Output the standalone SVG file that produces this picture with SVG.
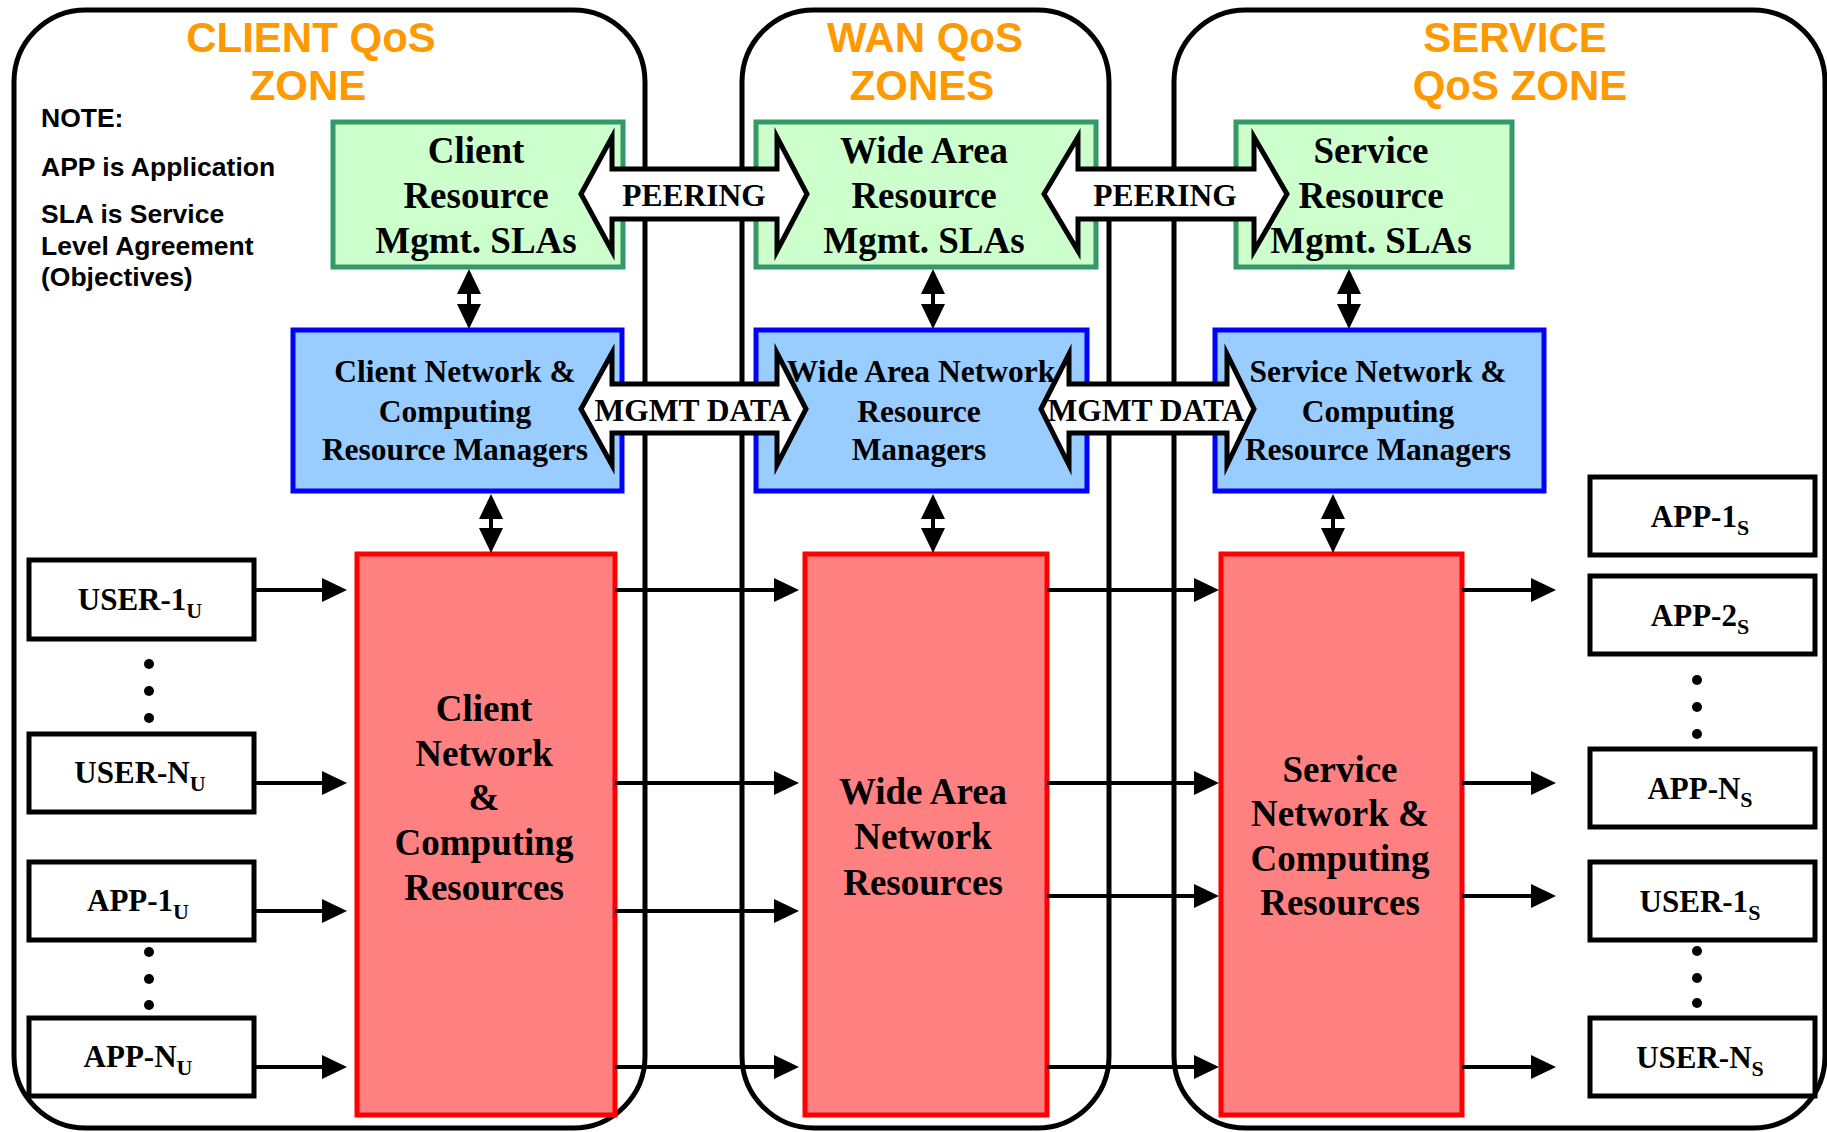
<svg xmlns="http://www.w3.org/2000/svg" width="1827" height="1132" viewBox="0 0 1827 1132">
<style>
.zone{fill:none;stroke:#000;stroke-width:5}
.title{font-family:"Liberation Sans",Arial,sans-serif;font-weight:bold;font-size:42px;fill:#FF9900;text-anchor:middle}
.note{font-family:"Liberation Sans",Arial,sans-serif;font-weight:bold;font-size:26.5px;fill:#000}
.t{font-family:"Liberation Serif","Times New Roman",serif;font-weight:bold;text-anchor:middle;fill:#000}
.gt{font-size:37px}
.bt{font-size:31.5px}
.rt{font-size:37px}
.st{font-size:31px}
.sub{font-size:22px}
.green{fill:#CCFFCC;stroke:#339966;stroke-width:5}
.blue{fill:#99CCFF;stroke:#0000FF;stroke-width:5}
.red{fill:#FF8080;stroke:#FF0000;stroke-width:5}
.box{fill:#fff;stroke:#000;stroke-width:5}
.block{fill:#fff;stroke:#000;stroke-width:5;stroke-linejoin:miter;stroke-miterlimit:10}
.conn{stroke:#000;stroke-width:4;fill:none}
.dot{fill:#000}
</style>
<defs>
<marker id="ah" markerUnits="userSpaceOnUse" markerWidth="26" markerHeight="26" viewBox="0 0 26 26" refX="15" refY="12" orient="auto-start-reverse">
<path d="M0,0 L25,12 L0,24 z" fill="#000"/>
</marker>
</defs>

<g id="zones">
<rect id="zone-client" class="zone" x="14" y="10" width="631" height="1118" rx="72" ry="72"/>
<rect id="zone-wan" class="zone" x="742" y="10" width="367" height="1118" rx="72" ry="72"/>
<rect id="zone-service" class="zone" x="1174" y="10" width="651" height="1118" rx="72" ry="72"/>
<text class="title" x="311" y="52">CLIENT QoS</text>
<text class="title" x="308" y="100">ZONE</text>
<text class="title" x="925" y="52">WAN QoS</text>
<text class="title" x="922" y="100">ZONES</text>
<text class="title" x="1515" y="52">SERVICE</text>
<text class="title" x="1520" y="100">QoS ZONE</text>
</g>

<g id="note">
<text class="note" x="41" y="127">NOTE:</text>
<text class="note" x="41" y="176">APP is Application</text>
<text class="note" x="41" y="223">SLA is Service</text>
<text class="note" x="41" y="255">Level Agreement</text>
<text class="note" x="41" y="286">(Objectives)</text>
</g>

<g id="client-sla">
<rect class="green" x="333" y="122" width="290" height="145"/>
<text class="t gt" x="476" y="163">Client</text>
<text class="t gt" x="476" y="208">Resource</text>
<text class="t gt" x="476" y="253">Mgmt. SLAs</text>
</g>
<g id="wan-sla">
<rect class="green" x="756" y="122" width="340" height="145"/>
<text class="t gt" x="924" y="163">Wide Area</text>
<text class="t gt" x="924" y="208">Resource</text>
<text class="t gt" x="924" y="253">Mgmt. SLAs</text>
</g>
<g id="service-sla">
<rect class="green" x="1236" y="122" width="276" height="145"/>
<text class="t gt" x="1371" y="163">Service</text>
<text class="t gt" x="1371" y="208">Resource</text>
<text class="t gt" x="1371" y="253">Mgmt. SLAs</text>
</g>

<g id="client-rm">
<rect class="blue" x="293" y="330" width="329" height="161"/>
<text class="t bt" x="455" y="382">Client Network &amp;</text>
<text class="t bt" x="455" y="422">Computing</text>
<text class="t bt" x="455" y="460">Resource Managers</text>
</g>
<g id="wan-rm">
<rect class="blue" x="756" y="330" width="331" height="161"/>
<text class="t bt" x="921" y="382">Wide Area Network</text>
<text class="t bt" x="919" y="422">Resource</text>
<text class="t bt" x="919" y="460">Managers</text>
</g>
<g id="service-rm">
<rect class="blue" x="1215" y="330" width="329" height="161"/>
<text class="t bt" x="1378" y="382">Service Network &amp;</text>
<text class="t bt" x="1378" y="422">Computing</text>
<text class="t bt" x="1378" y="460">Resource Managers</text>
</g>

<g id="client-res">
<rect class="red" x="357" y="554" width="258" height="561"/>
<text class="t rt" x="484" y="721">Client</text>
<text class="t rt" x="484" y="766">Network</text>
<text class="t rt" x="484" y="810">&amp;</text>
<text class="t rt" x="484" y="855">Computing</text>
<text class="t rt" x="484" y="900">Resources</text>
</g>
<g id="wan-res">
<rect class="red" x="805" y="554" width="242" height="561"/>
<text class="t rt" x="923" y="804">Wide Area</text>
<text class="t rt" x="923" y="849">Network</text>
<text class="t rt" x="923" y="895">Resources</text>
</g>
<g id="service-res">
<rect class="red" x="1221" y="554" width="241" height="561"/>
<text class="t rt" x="1340" y="782">Service</text>
<text class="t rt" x="1340" y="826">Network &amp;</text>
<text class="t rt" x="1340" y="871">Computing</text>
<text class="t rt" x="1340" y="915">Resources</text>
</g>

<g id="user-1u">
<rect class="box" x="29" y="560" width="225" height="79"/>
<text class="t st" x="140" y="610">USER-1<tspan class="sub" dy="8">U</tspan></text>
</g>
<g id="user-nu">
<rect class="box" x="29" y="734" width="225" height="78"/>
<text class="t st" x="140" y="783">USER-N<tspan class="sub" dy="8">U</tspan></text>
</g>
<g id="app-1u">
<rect class="box" x="29" y="862" width="225" height="78"/>
<text class="t st" x="138" y="911">APP-1<tspan class="sub" dy="8">U</tspan></text>
</g>
<g id="app-nu">
<rect class="box" x="29" y="1018" width="225" height="78"/>
<text class="t st" x="138" y="1067">APP-N<tspan class="sub" dy="8">U</tspan></text>
</g>

<g id="app-1s">
<rect class="box" x="1590" y="477" width="225" height="78"/>
<text class="t st" x="1700" y="527">APP-1<tspan class="sub" dy="8">S</tspan></text>
</g>
<g id="app-2s">
<rect class="box" x="1590" y="576" width="225" height="78"/>
<text class="t st" x="1700" y="626">APP-2<tspan class="sub" dy="8">S</tspan></text>
</g>
<g id="app-ns">
<rect class="box" x="1590" y="749" width="225" height="78"/>
<text class="t st" x="1700" y="799">APP-N<tspan class="sub" dy="8">S</tspan></text>
</g>
<g id="user-1s">
<rect class="box" x="1590" y="862" width="225" height="78"/>
<text class="t st" x="1700" y="912">USER-1<tspan class="sub" dy="8">S</tspan></text>
</g>
<g id="user-ns">
<rect class="box" x="1590" y="1018" width="225" height="78"/>
<text class="t st" x="1700" y="1068">USER-N<tspan class="sub" dy="8">S</tspan></text>
</g>

<g id="ellipses">
<circle class="dot" cx="149" cy="664" r="5"/>
<circle class="dot" cx="149" cy="691" r="5"/>
<circle class="dot" cx="149" cy="718" r="5"/>
<circle class="dot" cx="149" cy="952" r="5"/>
<circle class="dot" cx="149" cy="979" r="5"/>
<circle class="dot" cx="149" cy="1005" r="5"/>
<circle class="dot" cx="1697" cy="680" r="5"/>
<circle class="dot" cx="1697" cy="707" r="5"/>
<circle class="dot" cx="1697" cy="734" r="5"/>
<circle class="dot" cx="1697" cy="951" r="5"/>
<circle class="dot" cx="1697" cy="978" r="5"/>
<circle class="dot" cx="1697" cy="1003" r="5"/>
</g>

<g id="connectors">
<line class="conn" x1="469" y1="279" x2="469" y2="319" marker-start="url(#ah)" marker-end="url(#ah)"/>
<line class="conn" x1="933" y1="279" x2="933" y2="319" marker-start="url(#ah)" marker-end="url(#ah)"/>
<line class="conn" x1="1349" y1="279" x2="1349" y2="319" marker-start="url(#ah)" marker-end="url(#ah)"/>
<line class="conn" x1="491" y1="504" x2="491" y2="543" marker-start="url(#ah)" marker-end="url(#ah)"/>
<line class="conn" x1="933" y1="504" x2="933" y2="543" marker-start="url(#ah)" marker-end="url(#ah)"/>
<line class="conn" x1="1333" y1="504" x2="1333" y2="543" marker-start="url(#ah)" marker-end="url(#ah)"/>
<line class="conn" x1="254" y1="590" x2="337" y2="590" marker-end="url(#ah)"/>
<line class="conn" x1="254" y1="783" x2="337" y2="783" marker-end="url(#ah)"/>
<line class="conn" x1="254" y1="911" x2="337" y2="911" marker-end="url(#ah)"/>
<line class="conn" x1="254" y1="1067" x2="337" y2="1067" marker-end="url(#ah)"/>
<line class="conn" x1="615" y1="590" x2="789" y2="590" marker-end="url(#ah)"/>
<line class="conn" x1="615" y1="783" x2="789" y2="783" marker-end="url(#ah)"/>
<line class="conn" x1="615" y1="911" x2="789" y2="911" marker-end="url(#ah)"/>
<line class="conn" x1="615" y1="1067" x2="789" y2="1067" marker-end="url(#ah)"/>
<line class="conn" x1="1047" y1="590" x2="1209" y2="590" marker-end="url(#ah)"/>
<line class="conn" x1="1047" y1="783" x2="1209" y2="783" marker-end="url(#ah)"/>
<line class="conn" x1="1047" y1="896" x2="1209" y2="896" marker-end="url(#ah)"/>
<line class="conn" x1="1047" y1="1067" x2="1209" y2="1067" marker-end="url(#ah)"/>
<line class="conn" x1="1462" y1="590" x2="1546" y2="590" marker-end="url(#ah)"/>
<line class="conn" x1="1462" y1="783" x2="1546" y2="783" marker-end="url(#ah)"/>
<line class="conn" x1="1462" y1="896" x2="1546" y2="896" marker-end="url(#ah)"/>
<line class="conn" x1="1462" y1="1067" x2="1546" y2="1067" marker-end="url(#ah)"/>
<polygon class="block" points="581,194 612,137 612,169 777,169 777,137 807,194 777,251 777,219 612,219 612,251"/>
<text class="t bt" x="694" y="206">PEERING</text>
<polygon class="block" points="1044,194 1078,137 1078,169 1254,169 1254,137 1287,194 1254,251 1254,219 1078,219 1078,251"/>
<text class="t bt" x="1165" y="206">PEERING</text>
<polygon class="block" points="581,409 612,353 612,384 777,384 777,353 806,409 777,465 777,433 612,433 612,465"/>
<text class="t bt" x="693" y="421">MGMT DATA</text>
<polygon class="block" points="1041,409 1069,354 1069,384 1227,384 1227,354 1254,409 1227,465 1227,433 1069,433 1069,465"/>
<text class="t bt" x="1146" y="421">MGMT DATA</text>
</g>
</svg>
